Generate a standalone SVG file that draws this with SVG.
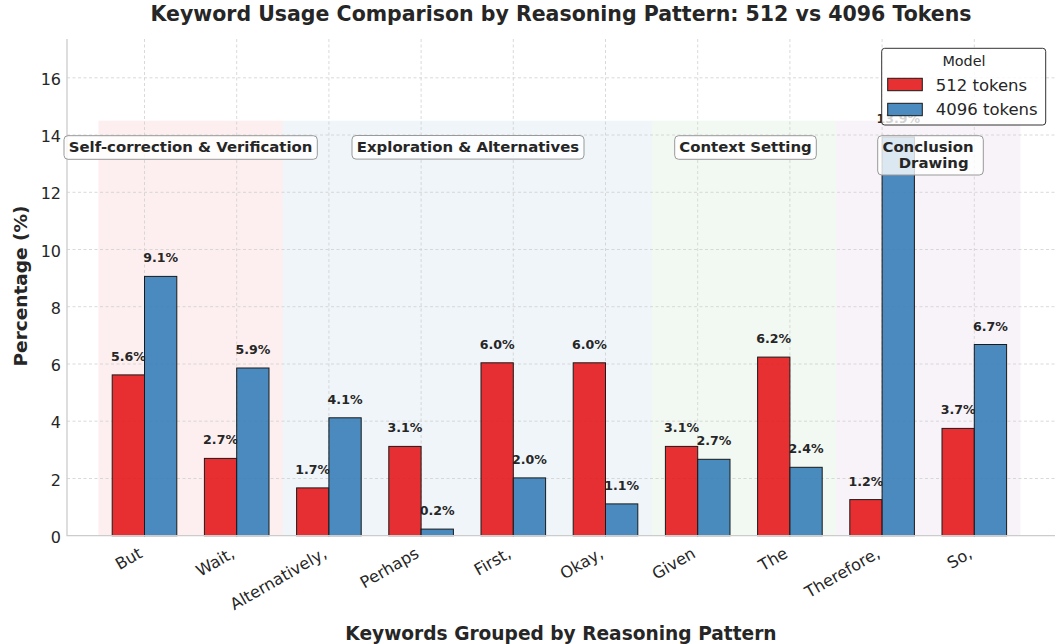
<svg xmlns="http://www.w3.org/2000/svg" width="1058" height="644" viewBox="0 0 1058 644">
<style>
text{font-family:"DejaVu Sans","Liberation Sans",sans-serif;fill:#262626}
.b{font-weight:bold}
.grid{stroke:#cfcfcf;stroke-width:0.8;stroke-dasharray:3 2.5}
.spine{stroke:#cccccc;stroke-width:1.3;fill:none}
.r{fill:#e41a1c;fill-opacity:0.9;stroke:#1a1a1a;stroke-width:1}
.bl{fill:#377eb8;fill-opacity:0.9;stroke:#1a1a1a;stroke-width:1}
.val{font-size:12.6px;font-weight:bold;text-anchor:middle}
.yt{font-size:16px;text-anchor:end}
.xt{font-size:16.2px;text-anchor:end}
.cat{fill:#ffffff;fill-opacity:0.8;stroke:#999999;stroke-width:1}
.catt{font-size:14.9px;font-weight:bold;text-anchor:middle}
</style>
<rect width="1058" height="644" fill="#ffffff"/>
<g id="bands">
<rect x="98.4" y="120.7" width="184.4" height="415" fill="#e41a1c" fill-opacity="0.07"/>
<rect x="282.8" y="120.7" width="368.8" height="415" fill="#377eb8" fill-opacity="0.08"/>
<rect x="651.6" y="120.7" width="184.4" height="415" fill="#4daf4a" fill-opacity="0.07"/>
<rect x="836" y="120.7" width="184.4" height="415" fill="#984ea3" fill-opacity="0.07"/>
</g>
<g id="grid">
<line class="grid" x1="67" y1="478.5" x2="1055" y2="478.5"/>
<line class="grid" x1="67" y1="421.2" x2="1055" y2="421.2"/>
<line class="grid" x1="67" y1="364.0" x2="1055" y2="364.0"/>
<line class="grid" x1="67" y1="306.7" x2="1055" y2="306.7"/>
<line class="grid" x1="67" y1="249.5" x2="1055" y2="249.5"/>
<line class="grid" x1="67" y1="192.3" x2="1055" y2="192.3"/>
<line class="grid" x1="67" y1="135.0" x2="1055" y2="135.0"/>
<line class="grid" x1="67" y1="77.8" x2="1055" y2="77.8"/>
<line class="grid" x1="144.5" y1="39" x2="144.5" y2="535.7"/>
<line class="grid" x1="236.7" y1="39" x2="236.7" y2="535.7"/>
<line class="grid" x1="328.9" y1="39" x2="328.9" y2="535.7"/>
<line class="grid" x1="421.1" y1="39" x2="421.1" y2="535.7"/>
<line class="grid" x1="513.3" y1="39" x2="513.3" y2="535.7"/>
<line class="grid" x1="605.5" y1="39" x2="605.5" y2="535.7"/>
<line class="grid" x1="697.7" y1="39" x2="697.7" y2="535.7"/>
<line class="grid" x1="789.9" y1="39" x2="789.9" y2="535.7"/>
<line class="grid" x1="882.1" y1="39" x2="882.1" y2="535.7"/>
<line class="grid" x1="974.3" y1="39" x2="974.3" y2="535.7"/>
</g>
<g id="value-labels">
<text class="val" x="128.35" y="360.9">5.6%</text>
<text class="val" x="160.65" y="262.4">9.1%</text>
<text class="val" x="220.55" y="444.4">2.7%</text>
<text class="val" x="252.85" y="354.0">5.9%</text>
<text class="val" x="312.75" y="473.9">1.7%</text>
<text class="val" x="345.05" y="403.8">4.1%</text>
<text class="val" x="404.95" y="432.4">3.1%</text>
<text class="val" x="437.25" y="515.1">0.2%</text>
<text class="val" x="497.15" y="348.8">6.0%</text>
<text class="val" x="529.45" y="463.9">2.0%</text>
<text class="val" x="589.35" y="348.8">6.0%</text>
<text class="val" x="621.65" y="489.9">1.1%</text>
<text class="val" x="681.55" y="432.4">3.1%</text>
<text class="val" x="713.85" y="445.3">2.7%</text>
<text class="val" x="773.75" y="343.1">6.2%</text>
<text class="val" x="806.05" y="453.3">2.4%</text>
<text class="val" x="865.95" y="485.6">1.2%</text>
<text class="val" x="898.25" y="123.0">13.9%</text>
<text class="val" x="958.15" y="414.4">3.7%</text>
<text class="val" x="990.45" y="330.5">6.7%</text>
</g>
<g id="bars-512">
<rect class="r" x="112.2" y="374.9" width="32.3" height="160.8"/>
<rect class="r" x="204.4" y="458.4" width="32.3" height="77.3"/>
<rect class="r" x="296.6" y="487.9" width="32.3" height="47.8"/>
<rect class="r" x="388.8" y="446.4" width="32.3" height="89.3"/>
<rect class="r" x="481.0" y="362.8" width="32.3" height="172.9"/>
<rect class="r" x="573.2" y="362.8" width="32.3" height="172.9"/>
<rect class="r" x="665.4" y="446.4" width="32.3" height="89.3"/>
<rect class="r" x="757.6" y="357.1" width="32.3" height="178.6"/>
<rect class="r" x="849.8" y="499.6" width="32.3" height="36.1"/>
<rect class="r" x="942.0" y="428.4" width="32.3" height="107.3"/>
</g>
<g id="bars-4096">
<rect class="bl" x="144.5" y="276.4" width="32.3" height="259.3"/>
<rect class="bl" x="236.7" y="368.0" width="32.3" height="167.7"/>
<rect class="bl" x="328.9" y="417.8" width="32.3" height="117.9"/>
<rect class="bl" x="421.1" y="529.1" width="32.3" height="6.6"/>
<rect class="bl" x="513.3" y="477.9" width="32.3" height="57.8"/>
<rect class="bl" x="605.5" y="503.9" width="32.3" height="31.8"/>
<rect class="bl" x="697.7" y="459.3" width="32.3" height="76.4"/>
<rect class="bl" x="789.9" y="467.3" width="32.3" height="68.4"/>
<rect class="bl" x="882.1" y="137.0" width="32.3" height="398.7"/>
<rect class="bl" x="974.3" y="344.5" width="32.3" height="191.2"/>
</g>
<g id="axes">
<path class="spine" d="M67 39 V535.7 H1055"/>
<text class="yt" x="61" y="542.7">0</text>
<text class="yt" x="61" y="485.5">2</text>
<text class="yt" x="61" y="428.2">4</text>
<text class="yt" x="61" y="371.0">6</text>
<text class="yt" x="61" y="313.7">8</text>
<text class="yt" x="61" y="256.5">10</text>
<text class="yt" x="61" y="199.3">12</text>
<text class="yt" x="61" y="142.0">14</text>
<text class="yt" x="61" y="84.8">16</text>
<text class="xt" transform="translate(143.5 556.5) rotate(-30)">But</text>
<text class="xt" transform="translate(235.7 556.5) rotate(-30)">Wait,</text>
<text class="xt" transform="translate(327.9 556.5) rotate(-30)">Alternatively,</text>
<text class="xt" transform="translate(420.1 556.5) rotate(-30)">Perhaps</text>
<text class="xt" transform="translate(512.3 556.5) rotate(-30)">First,</text>
<text class="xt" transform="translate(604.5 556.5) rotate(-30)">Okay,</text>
<text class="xt" transform="translate(696.7 556.5) rotate(-30)">Given</text>
<text class="xt" transform="translate(788.9 556.5) rotate(-30)">The</text>
<text class="xt" transform="translate(881.1 556.5) rotate(-30)">Therefore,</text>
<text class="xt" transform="translate(973.3 556.5) rotate(-30)">So,</text>
<text class="b" x="27" y="286" font-size="18.5" text-anchor="middle" transform="rotate(-90 27 286)">Percentage (%)</text>
<text class="b" x="561" y="640" font-size="18.6" text-anchor="middle">Keywords Grouped by Reasoning Pattern</text>
<text class="b" x="561" y="21" font-size="20.5" text-anchor="middle">Keyword Usage Comparison by Reasoning Pattern: 512 vs 4096 Tokens</text>
</g>
<g id="cat-self">
<rect class="cat" x="64" y="135.7" width="253.3" height="23.6" rx="4"/>
<text class="catt" x="190.6" y="151.7">Self-correction &amp; Verification</text>
</g>
<g id="cat-exploration">
<rect class="cat" x="352" y="135.5" width="232" height="23.6" rx="4"/>
<text class="catt" x="468" y="151.7">Exploration &amp; Alternatives</text>
</g>
<g id="cat-context">
<rect class="cat" x="674.7" y="135.7" width="141.6" height="23.6" rx="4"/>
<text class="catt" x="745.5" y="151.7">Context Setting</text>
</g>
<g id="cat-conclusion">
<rect class="cat" x="877.7" y="135.7" width="105.6" height="39.3" rx="4"/>
<text class="catt" x="928" y="151.7">Conclusion</text>
<text class="catt" x="933.7" y="168.3">Drawing</text>
</g>
<g id="legend">
<rect x="881.7" y="48.3" width="164" height="76.7" rx="3" fill="#ffffff" fill-opacity="0.8" stroke="#333333" stroke-width="1"/>
<text x="964" y="66" font-size="14.4" text-anchor="middle">Model</text>
<rect class="r" x="887.7" y="78.3" width="34.6" height="12.4"/>
<text x="935.7" y="90.7" font-size="16.5">512 tokens</text>
<rect class="bl" x="887.7" y="103.3" width="34.6" height="12.4"/>
<text x="935.7" y="115.3" font-size="16.5">4096 tokens</text>
</g>
</svg>
